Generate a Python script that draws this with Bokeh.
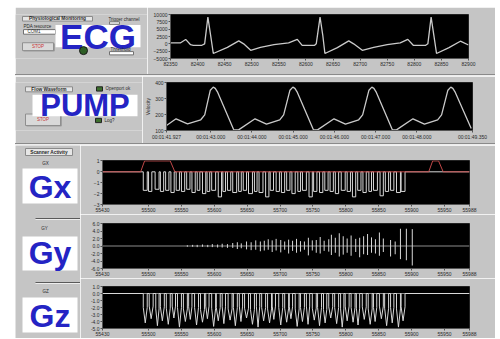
from bokeh.plotting import figure
from bokeh.layouts import row, column
from bokeh.models import (Range1d, FixedTicker, Spacer, Div,
                          NumeralTickFormatter, CustomJSTickFormatter)
from bokeh.core.properties import value
from bokeh.embed import file_html
from bokeh.resources import INLINE

FONT = "Liberation Sans"
PANEL = "#c5c5c5"
TRACE = "#cacaca"
BLUE = "#2424c4"
TXT = "#2a2a2a"

# ---------------- data ----------------
ecg_x = [82350, 82368, 82378, 82387, 82392, 82408, 82413, 82419, 82424, 82429,
         82455, 82476, 82485, 82498, 82516, 82541, 82568, 82584, 82593, 82616,
         82619, 82626, 82631, 82635, 82658, 82679, 82688, 82704, 82725, 82750,
         82774, 82788, 82798, 82821, 82825, 82831, 82836, 82841, 82864, 82885,
         82900]
ecg_y = [300, 300, 1500, -300, -500, -500, 0, 9100, 3000, -3300,
         -1200, 1000, 0, -2200, -1200, -300, 300, 1500, -500, -500,
         0, 9100, 3000, -3300, -1300, 1000, 0, -2200, -1200, -300,
         300, 1500, -500, -500, 0, 9100, 3000, -3300, -1300, 900,
         -400]
ecg_xticks = [82350, 82400, 82450, 82500, 82550, 82600, 82650, 82700, 82750, 82800, 82850, 82900]
ecg_yticks = [-5000, -2500, 0, 2500, 5000, 7500, 10000]

pump_t = [41.927, 42.159, 42.437, 42.758, 42.854, 42.990, 43.060, 43.110, 43.170, 43.555, 43.675,
          44.075, 44.353, 44.674, 44.769, 44.922, 44.992, 45.042, 45.102, 45.488, 45.591,
          45.991, 46.268, 46.589, 46.685, 46.838, 46.908, 46.958, 47.018, 47.403, 47.506,
          47.906, 48.184, 48.505, 48.600, 48.753, 48.823, 48.873, 48.933, 49.319]
pump_v = [131, 173, 142, 167, 198, 352, 371, 363, 338, 106, 104,
          173, 140, 167, 198, 352, 371, 363, 338, 106, 104,
          173, 140, 167, 198, 352, 371, 363, 338, 106, 104,
          173, 140, 167, 198, 352, 371, 363, 338, 112]
pump_xticks = [41.927, 43.0, 44.0, 45.0, 46.0, 47.0, 48.0, 49.35]
pump_yticks = [100, 200, 300, 400]

g_xticks = [55430, 55500, 55550, 55600, 55650, 55700, 55750, 55800, 55850, 55900, 55950, 55988]
gx_yticks = [-3, -2, -1, 0, 1]
gy_yticks = [-6, -4, -2, 0, 2, 4, 6]
gz_yticks = [-5, -4, -3, -2, -1, 0, 1]

gx_start = [55492, 55500, 55510, 55518, 55526, 55534, 55542,
            55550, 55558, 55566, 55574, 55582, 55589, 55596,
            55606, 55613, 55620, 55628, 55637, 55644, 55652,
            55661, 55668, 55678, 55685, 55694, 55702, 55710,
            55718, 55727, 55734, 55744, 55751, 55760, 55768,
            55776, 55784, 55793, 55802, 55810, 55818, 55826,
            55835, 55842, 55852, 55860, 55868, 55877, 55884]
gx_width = [6, 5, 6, 5, 5, 5, 5,
            5, 5, 5, 4, 5, 4, 6,
            5, 4, 5, 6, 4, 5, 6,
            4, 6, 5, 5, 5, 5, 5,
            5, 4, 6, 5, 5, 5, 5,
            5, 5, 6, 5, 5, 5, 5,
            4, 6, 5, 5, 5, 6, 6]
gx_depth = [-1.7, -1.8, -1.6, -1.8, -1.7, -1.9, -1.7,
            -1.8, -1.6, -1.9, -1.7, -2.0, -1.8, -1.7,
            -2.3, -1.8, -1.7, -1.9, -1.8, -1.7, -2.0,
            -1.8, -1.9, -2.3, -1.7, -1.8, -1.9, -1.7,
            -2.0, -1.8, -1.7, -2.3, -1.8, -1.9, -1.7,
            -1.8, -2.0, -1.7, -1.8, -2.3, -1.7, -1.9,
            -1.8, -1.7, -2.2, -1.8, -1.7, -1.9, -1.8]
gx_ref_x = [55430, 55488, 55494, 55533, 55540, 55926, 55932, 55941, 55948, 55988]
gx_ref_y = [0, 0, 1, 1, 0, 0, 1, 1, 0, 0]

gy_x = [55559, 55567, 55574, 55582, 55590, 55597, 55605,
        55612, 55620, 55628, 55635, 55641, 55649, 55656,
        55663, 55670, 55676, 55682, 55688, 55694, 55701,
        55707, 55713, 55719, 55725, 55731, 55737, 55743,
        55749, 55755, 55761, 55767, 55774, 55778, 55784,
        55790, 55796, 55802, 55808, 55815, 55821, 55827,
        55833, 55839, 55845, 55851, 55857, 55868, 55875,
        55883, 55892, 55901]
gy_up = [0.2, 0.3, 0.3, 0.4, 0.3, 0.5, 0.4,
         0.6, 0.5, 0.8, 1.0, 0.7, 1.2, 1.0,
         1.5, 1.2, 1.4, 1.8, 1.5, 1.9, 1.6,
         1.2, 1.7, 1.4, 1.9, 1.3, 1.2, 2.2,
         1.5, 1.6, 2.4, 1.4, 1.8, 3.0, 2.2,
         3.4, 2.6, 2.0, 2.8, 1.9, 2.2, 2.6,
         3.2, 2.3, 1.8, 3.6, 2.0, 1.6, 1.2,
         4.6, 4.6, 4.5]
gy_down = [-0.2, -0.2, -0.3, -0.2, -0.3, -0.3, -0.4,
           -0.4, -0.5, -0.5, -0.8, -0.6, -0.9, -1.1,
           -1.0, -1.4, -1.2, -1.0, -1.6, -1.2, -1.7,
           -1.0, -2.0, -1.3, -1.8, -1.5, -1.0, -2.5,
           -1.2, -1.8, -2.0, -1.3, -1.5, -2.4, -1.8,
           -2.8, -2.3, -1.8, -2.6, -1.6, -3.0, -2.2,
           -2.4, -1.8, -2.0, -2.6, -1.6, -2.8, -2.2,
           -3.5, -3.8, -5.2]

gz_start = [55492, 55501, 55511, 55518, 55527, 55536, 55544,
            55553, 55561, 55570, 55579, 55587, 55596, 55603,
            55612, 55621, 55629, 55638, 55646, 55655, 55664,
            55672, 55681, 55688, 55698, 55707, 55714, 55723,
            55731, 55740, 55749, 55757, 55766, 55774, 55783,
            55792, 55799, 55808, 55816, 55825, 55834, 55842,
            55851, 55859, 55868, 55877, 55884]
gz_width = [6, 6, 5, 6, 6, 5, 6,
            6, 5, 6, 6, 5, 6, 6,
            5, 6, 6, 5, 6, 6, 5,
            6, 6, 5, 6, 6, 5, 6,
            6, 5, 6, 6, 5, 6, 6,
            5, 6, 6, 5, 6, 6, 5,
            6, 6, 5, 6, 6]
gz_depth = [-2.0, -1.8, -2.2, -1.9, -2.1, -1.8, -2.0,
            -2.2, -1.9, -2.0, -2.3, -1.8, -2.1, -2.0,
            -1.9, -2.2, -2.0, -1.8, -2.1, -2.3, -1.9,
            -2.0, -2.2, -1.8, -2.0, -2.1, -1.9, -2.2,
            -2.0, -1.8, -2.1, -2.0, -2.3, -1.9, -2.0,
            -2.2, -1.8, -2.0, -2.1, -1.9, -2.2, -2.0,
            -1.8, -2.1, -2.0, -2.2, -1.9]
gz_spike = [-4.2, -3.6, -4.6, -3.9, -4.4, -3.5, -4.8,
            -4.0, -3.7, -4.5, -4.1, -3.6, -4.7, -3.9,
            -4.3, -3.8, -4.6, -4.0, -3.5, -4.4, -4.8,
            -3.9, -4.2, -3.7, -4.5, -4.1, -3.6, -4.7,
            -4.0, -4.4, -3.8, -4.6, -4.2, -3.5, -4.3,
            -4.8, -3.9, -4.1, -4.5, -3.7, -4.4, -4.0,
            -3.6, -4.6, -4.2, -4.8, -3.9]

G_LO, G_HI = 55430, 55988


# ---------------- helpers ----------------
def style_axes(p):
    for ax in p.axis:
        ax.major_label_text_font = FONT
        ax.major_label_text_font_size = "5px"
        ax.major_label_text_color = TXT
        ax.axis_line_color = "#555555"
        ax.major_tick_line_color = "#555555"
        ax.major_tick_in = 0
        ax.major_tick_out = 2
        ax.minor_tick_line_color = None
        ax.major_label_standoff = 1


def plot_fig(w, h, xr, yr, bl, br, bt, bb, xt, yt):
    p = figure(width=w, height=h, x_range=Range1d(*xr), y_range=Range1d(*yr),
               output_backend="svg", toolbar_location=None,
               min_border_left=bl, min_border_right=br,
               min_border_top=bt, min_border_bottom=bb,
               background_fill_color="black", border_fill_color=PANEL,
               outline_line_color="#222222")
    p.grid.visible = False
    p.xaxis.ticker = FixedTicker(ticks=xt)
    p.yaxis.ticker = FixedTicker(ticks=yt)
    style_axes(p)
    return p


def panel_fig(w, h):
    p = figure(width=w, height=h, x_range=Range1d(0, w), y_range=Range1d(h, 0),
               output_backend="svg", toolbar_location=None, min_border=0,
               x_axis_type=None, y_axis_type=None,
               background_fill_color=PANEL, border_fill_color=PANEL,
               outline_line_color=None)
    p.grid.visible = False
    return p


def label(p, x, y, t, size="4.5px", color=TXT, align="left", style="normal"):
    p.text(x=[x], y=[y], text=[t], text_font=value(FONT), text_font_size=size,
           text_color=color, text_align=align, text_baseline="middle",
           text_font_style=style)


def big(p, x, y, t, size):
    label(p, x, y, t, size=size, color=BLUE, align="center", style="bold")


def box(p, x, y, w, h, fill, line=None):
    p.rect(x=[x], y=[y], width=[w], height=[h], fill_color=fill,
           line_color=line, line_width=1)


def button(p, x, y, w, h):
    box(p, x + 1, y + 1, w, h, "#7d7d7d")
    box(p, x, y, w, h, "#d9d9d9", "#8f8f8f")
    label(p, x, y, "STOP", color="#c83232", align="center")


def sep():
    return Div(text="", width=480, height=2, margin=0,
               styles={"background": "linear-gradient(#8a8a8a 50%, #ededed 50%)"})


# ---------------- row 1: ECG ----------------
l1 = panel_fig(132, 67)
box(l1, 42, 6.5, 70, 7, "#e6e6e6", "#8a8a8a")
label(l1, 42, 6.5, "Physiological Monitoring", size="4.8px", align="center", style="bold")
label(l1, 8, 18.5, "PDA resource")
box(l1, 24, 26.5, 32, 7, "white", "#707070")
label(l1, 12, 26.5, "COM1")
button(l1, 22.5, 49, 31, 12)
label(l1, 93, 8, "Trigger channel")
box(l1, 99, 13, 10, 4, "#e8e8e8", "#777777")
box(l1, 82.5, 33, 85, 34, "white")
big(l1, 82.5, 33, "ECG", "35px")
label(l1, 95, 53, "Threshold")
box(l1, 106, 59, 24, 5, "white", "#707070")
l1.scatter(x=[68], y=[55], size=8, marker="circle", fill_color="#2e5e26", line_color="#1a1a1a")

r1 = plot_fig(348, 67, (82350, 82900), (-5000, 10000), 23, 27, 7, 16, ecg_xticks, ecg_yticks)
r1.line(ecg_x, ecg_y, line_color=TRACE, line_width=1.3)

# ---------------- row 2: PUMP ----------------
l2 = panel_fig(127, 67)
box(l2, 33.5, 9.5, 47, 7, "#e6e6e6", "#8a8a8a")
label(l2, 33.5, 9.5, "Flow Waveform", size="4.8px", align="center", style="bold")
box(l2, 84, 9, 6, 6, "#3c6e2c", "#222222")
label(l2, 90, 9, "Openport ok")
button(l2, 27.5, 52, 35, 16)
box(l2, 69.5, 32, 105, 30, "white")
big(l2, 69.5, 32.5, "PUMP", "31px")
box(l2, 83, 53, 6, 6, "#3c6e2c", "#222222")
label(l2, 89, 53, "Log?")

r2 = plot_fig(353, 67, (41.927, 49.35), (100, 400), 20, 23, 6, 13, pump_xticks, pump_yticks)
r2.xaxis.formatter = CustomJSTickFormatter(code="return '00:01:' + tick.toFixed(3).padStart(6, '0');")
r2.yaxis.axis_label = "Velocity"
r2.yaxis.axis_label_text_font = FONT
r2.yaxis.axis_label_text_font_size = "5px"
r2.yaxis.axis_label_text_font_style = "normal"
r2.yaxis.axis_label_text_color = TXT
r2.yaxis.axis_label_standoff = 1
r2.line(pump_t, pump_v, line_color=TRACE, line_width=1.3)

# ---------------- row 3: scanner ----------------
l3 = panel_fig(65, 193)
box(l3, 33.5, 6.5, 47, 7, "#e6e6e6", "#8a8a8a")
label(l3, 33.5, 6.5, "Scanner Activity", size="4.8px", align="center", style="bold")
label(l3, 30, 18, "GX", align="center")
box(l3, 34.5, 40.5, 55, 35, "white")
big(l3, 34.5, 41.5, "Gx", "32px")
l3.segment(x0=[20, 20], y0=[73, 137], x1=[65, 65], y1=[73, 137], line_color="#5a5a5a", line_width=1)
l3.segment(x0=[20, 20], y0=[74, 138], x1=[65, 65], y1=[74, 138], line_color="#eeeeee", line_width=1)
label(l3, 29, 83, "GY", align="center")
box(l3, 34.5, 108, 55, 34, "white")
big(l3, 34.5, 107, "Gy", "32px")
label(l3, 30, 146, "GZ", align="center")
box(l3, 34.5, 169.5, 55, 35, "white")
big(l3, 34.5, 170, "Gz", "32px")

# Gx
gx = plot_fig(415, 69, (G_LO, G_HI), (-3, 1.04), 17, 26, 15, 7, g_xticks, gx_yticks)
gxs, gys = [G_LO], [0]
for s, w, d in zip(gx_start, gx_width, gx_depth):
    gxs += [s, s, s + w, s + w]
    gys += [0, d, d, 0]
gxs.append(G_HI)
gys.append(0)
gx.line(gxs, gys, line_color="#d8d8d8", line_width=1)
gx.line(gx_ref_x, gx_ref_y, line_color="#c04848", line_width=1)

# Gy
gy = plot_fig(415, 64, (G_LO, G_HI), (-6, 6), 22, 26, 9, 10, g_xticks, gy_yticks)
gy.yaxis.formatter = NumeralTickFormatter(format="0.0")
gy.line([G_LO, G_HI], [0, 0], line_color="#8c8c8c", line_width=1)
gy.segment(x0=gy_x, y0=gy_down, x1=gy_x, y1=gy_up, line_color="#d8d8d8", line_width=1)

# Gz
gz = plot_fig(415, 60, (G_LO, G_HI), (-5, 1), 22, 26, 8, 7, g_xticks, gz_yticks)
gz.yaxis.formatter = NumeralTickFormatter(format="0.0")
gz.line([G_LO, G_HI], [0, 0], line_color="#8c8c8c", line_width=1)
zxs, zys = [G_LO], [0]
for s, w, d, sp in zip(gz_start, gz_width, gz_depth, gz_spike):
    zxs += [s, s, s + w / 2, s + w, s + w]
    zys += [0, d, sp, d, 0]
zxs.append(G_HI)
zys.append(0)
gz.line(zxs, zys, line_color="#d8d8d8", line_width=1)

layout = column(
    Spacer(width=495, height=7),
    row(
        Spacer(width=15, height=331),
        column(
            row(l1, r1),
            sep(),
            row(l2, r2),
            sep(),
            row(l3, column(gx, gy, gz)),
        ),
    ),
)

open("out.html", "w").write(file_html(layout, INLINE))
